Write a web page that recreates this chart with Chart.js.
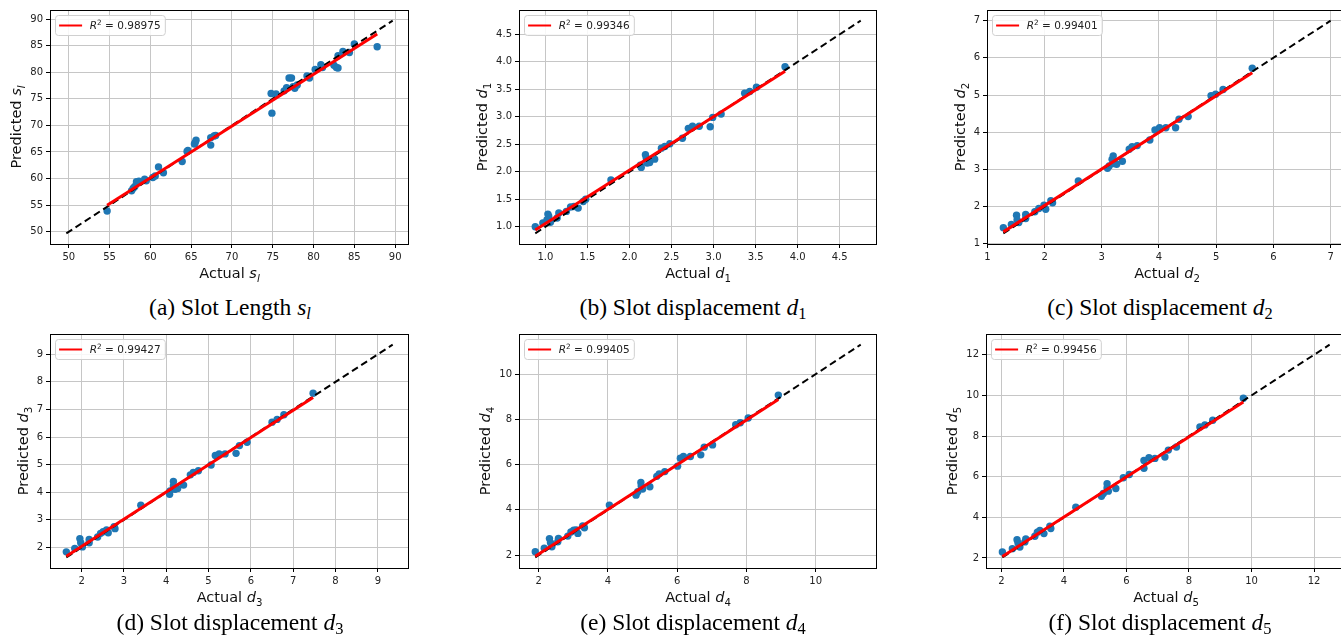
<!DOCTYPE html>
<html><head><meta charset="utf-8">
<script src="https://cdn.jsdelivr.net/npm/chart.js@4.4.1/dist/chart.umd.min.js"></script>
<style>
html,body{margin:0;padding:0;background:#fff;width:1341px;height:638px;overflow:hidden;position:relative}
canvas{position:absolute}
.cap{position:absolute;font-family:"Liberation Serif","Times New Roman",serif;font-size:23.5px;line-height:23.5px;white-space:nowrap;transform:translateX(-50%);color:#000}
.cap i{font-style:italic}
.cap sub{font-size:70%;vertical-align:-0.25em;line-height:0}
</style></head><body>
<script>
// ---------- DATA ----------
const aActual    = [54.7,57.7,57.9,58.1,58.3,58.6,59.3,59.5,60.3,60.6,61.0,61.6,63.9,64.5,64.6,65.4,65.5,65.6,67.4,67.4,67.8,68.0,74.8,74.9,75.4,76.4,76.7,77.0,77.3,77.5,77.7,78.0,79.2,79.5,80.2,80.9,81.1,82.5,82.8,83.0,83.0,83.6,84.4,85.0,87.8];
const aPredicted = [53.9,57.7,58.2,58.5,59.4,59.5,59.9,59.6,60.2,60.5,62.2,61.1,63.2,65.1,65.3,66.5,66.8,67.2,66.3,67.7,68.0,68.1,76.0,72.3,75.9,76.5,77.1,78.9,78.9,77.3,77.0,77.6,79.3,78.9,80.5,81.4,80.9,81.3,80.9,80.8,83.1,83.9,83.7,85.3,84.8];
const aFitX = [54.7, 87.8], aFitY = [55.0, 87.2], aIdeal = [49.7, 89.7];
const aTicks = [50,55,60,65,70,75,80,85,90];
const aR2 = "0.98975";

const bActual    = [0.88,0.97,1.02,1.03,1.04,1.06,1.14,1.16,1.25,1.30,1.34,1.39,1.45,1.48,1.78,2.13,2.14,2.19,2.20,2.21,2.24,2.30,2.38,2.42,2.48,2.63,2.70,2.75,2.83,2.96,2.99,3.09,3.37,3.43,3.51,3.85];
const bPredicted = [1.00,1.07,1.13,1.23,1.19,1.08,1.16,1.25,1.28,1.36,1.37,1.34,1.46,1.50,1.85,2.12,2.08,2.31,2.25,2.16,2.17,2.23,2.43,2.46,2.51,2.61,2.79,2.83,2.83,2.82,2.99,3.05,3.43,3.46,3.54,3.91];
const bFitX = [0.88, 3.85], bFitY = [0.94, 3.83], bIdeal = [0.88, 4.75];
const bTicks = [1.0,1.5,2.0,2.5,3.0,3.5,4.0,4.5];
const bR2 = "0.99346";

const cActual    = [1.28,1.42,1.51,1.52,1.55,1.67,1.67,1.83,1.90,1.99,2.02,2.11,2.14,2.59,3.10,3.13,3.18,3.20,3.21,3.26,3.36,3.48,3.53,3.62,3.84,3.93,4.01,4.12,4.29,4.35,4.51,4.91,4.99,5.12,5.63];
const cPredicted = [1.43,1.52,1.77,1.64,1.57,1.79,1.68,1.86,1.95,2.04,1.93,2.16,2.10,2.69,3.03,3.09,3.27,3.36,3.16,3.14,3.22,3.54,3.61,3.64,3.79,4.06,4.12,4.12,4.12,4.35,4.42,4.98,5.02,5.15,5.72];
const cFitX = [1.28, 5.63], cFitY = [1.32, 5.60], cIdeal = [1.28, 7.0];
const cTicks = [1,2,3,4,5,6,7];
const cR2 = "0.99401";

const dActual    = [1.64,1.84,1.96,1.98,2.02,2.18,2.18,2.38,2.45,2.51,2.59,2.63,2.77,2.79,3.40,4.08,4.09,4.17,4.17,4.21,4.27,4.41,4.57,4.64,4.76,5.06,5.16,5.25,5.39,5.65,5.73,5.91,6.50,6.62,6.78,7.47];
const dPredicted = [1.84,1.96,2.32,2.17,2.02,2.29,2.17,2.38,2.51,2.57,2.63,2.53,2.75,2.68,3.53,3.93,4.05,4.39,4.23,4.11,4.14,4.26,4.63,4.72,4.78,4.99,5.33,5.39,5.39,5.41,5.69,5.81,6.54,6.64,6.81,7.59];
const dFitX = [1.64, 7.47], dFitY = [1.68, 7.43], dIdeal = [1.64, 9.35];
const dTicks = [2,3,4,5,6,7,8,9];
const dR2 = "0.99427";

const eActual    = [1.90,2.16,2.31,2.34,2.38,2.55,2.57,2.84,2.93,3.01,3.08,3.13,3.27,3.32,4.04,4.81,4.86,4.95,4.96,5.00,5.21,5.41,5.48,5.64,6.01,6.09,6.18,6.38,6.68,6.78,7.02,7.69,7.82,8.05,8.92];
const ePredicted = [2.15,2.30,2.73,2.55,2.37,2.59,2.74,2.84,3.02,3.10,3.11,2.96,3.29,3.21,4.21,4.65,4.80,5.21,5.05,4.92,5.02,5.48,5.59,5.69,5.93,6.28,6.36,6.36,6.43,6.77,6.87,7.76,7.85,8.06,9.07];
const eFitX = [1.90, 8.92], eFitY = [1.95, 8.88], eIdeal = [1.90, 11.3];
const eTicks = [2,4,6,8,10];
const eR2 = "0.99405";

const fActual    = [2.03,2.35,2.50,2.53,2.59,2.75,2.78,3.07,3.15,3.23,3.36,3.55,3.58,4.38,5.20,5.26,5.38,5.38,5.42,5.66,5.90,6.09,6.56,6.56,6.72,6.91,7.23,7.34,7.60,8.35,8.51,8.76,9.74];
const fPredicted = [2.30,2.46,2.90,2.74,2.54,2.79,2.94,3.07,3.27,3.35,3.20,3.56,3.45,4.50,5.04,5.17,5.65,5.45,5.29,5.42,5.95,6.11,6.41,6.80,6.93,6.90,6.97,7.31,7.46,8.45,8.55,8.78,9.86];
const fFitX = [2.03, 9.74], fFitY = [2.07, 9.68], fIdeal = [2.03, 12.5];
const fTicks = [2,4,6,8,10,12];
const fR2 = "0.99456";

// ---------- LAYOUT ----------
const panels = [
 {actual:aActual, pred:aPredicted, fitX:aFitX, fitY:aFitY, ideal:aIdeal, ticks:aTicks, r2:aR2, sym:'s', sub:'l', subIt:true, dec:0, box:[50,10,409,244], yOff:29, cap:'(a) Slot Length <i>s<sub>l</sub></i>', capX:230, capTop:296.3},
 {actual:bActual, pred:bPredicted, fitX:bFitX, fitY:bFitY, ideal:bIdeal, ticks:bTicks, r2:bR2, sym:'d', sub:'1', subIt:false, dec:1, box:[519,10,877,244], yOff:32, cap:'(b) Slot displacement <i>d</i><sub>1</sub>', capX:693, capTop:296.3},
 {actual:cActual, pred:cPredicted, fitX:cFitX, fitY:cFitY, ideal:cIdeal, ticks:cTicks, r2:cR2, sym:'d', sub:'2', subIt:false, dec:0, box:[987,10,1347,244], yOff:22, cap:'(c) Slot displacement <i>d</i><sub>2</sub>', capX:1160, capTop:296.3},
 {actual:dActual, pred:dPredicted, fitX:dFitX, fitY:dFitY, ideal:dIdeal, ticks:dTicks, r2:dR2, sym:'d', sub:'3', subIt:false, dec:0, box:[50,334,409,568], yOff:22, cap:'(d) Slot displacement <i>d</i><sub>3</sub>', capX:230, capTop:611.3},
 {actual:eActual, pred:ePredicted, fitX:eFitX, fitY:eFitY, ideal:eIdeal, ticks:eTicks, r2:eR2, sym:'d', sub:'4', subIt:false, dec:0, box:[519,334,877,568], yOff:29, cap:'(e) Slot displacement <i>d</i><sub>4</sub>', capX:693, capTop:611.3},
 {actual:fActual, pred:fPredicted, fitX:fFitX, fitY:fFitY, ideal:fIdeal, ticks:fTicks, r2:fR2, sym:'d', sub:'5', subIt:false, dec:0, box:[986,334,1346,568], yOff:29, cap:'(f) Slot displacement <i>d</i><sub>5</sub>', capX:1160, capTop:611.3}
];

const FAM = '"DejaVu Sans", sans-serif';
function fnt(s){ return (s.it?'italic ':'') + s.size + 'px ' + FAM; }
function richWidth(ctx, segs){ let w=0; for(const s of segs){ ctx.font=fnt(s); w+=ctx.measureText(s.t).width; } return w; }
function drawRich(ctx, segs, x, y){ let cx=x; for(const s of segs){ ctx.font=fnt(s); ctx.fillText(s.t, cx, y+(s.dy||0)); cx+=ctx.measureText(s.t).width; } }

const decorPlugin = {
  id:'decor',
  afterDraw(chart, args, o){
    const ctx = chart.ctx, ca = chart.chartArea;
    ctx.save();
    // frame
    ctx.strokeStyle = '#000'; ctx.lineWidth = 1;
    ctx.strokeRect(Math.round(ca.left)+0.5, Math.round(ca.top)+0.5, Math.round(ca.right)-Math.round(ca.left)-1, Math.round(ca.bottom)-Math.round(ca.top));
    // legend
    ctx.fillStyle = '#000'; ctx.textBaseline = 'alphabetic';
    const lseg = [{t:'R', it:true, size:10.5},{t:'2', size:7.3, dy:-4.6},{t:' = ' + o.r2, size:10.5}];
    const tw = richWidth(ctx, lseg);
    const bx = ca.left + 5.5, by = ca.top + 5.5, bw = 3.6 + 23 + 7.7 + tw + 4.7, bh = 20;
    ctx.beginPath();
    ctx.roundRect(bx, by, bw, bh, 3);
    ctx.fillStyle = 'rgba(255,255,255,0.85)'; ctx.fill();
    ctx.strokeStyle = '#d0d0d0'; ctx.lineWidth = 1; ctx.stroke();
    ctx.beginPath(); ctx.moveTo(bx+3.6, by+10); ctx.lineTo(bx+26.6, by+10);
    ctx.strokeStyle = '#ff0000'; ctx.lineWidth = 2; ctx.stroke();
    ctx.fillStyle = '#222';
    drawRich(ctx, lseg, bx + 34.3, by + 13.8);
    // axis titles
    ctx.fillStyle = '#111';
    const symSeg = {t:o.sym, it:true, size:14.5};
    const subSeg = {t:o.sub, it:o.subIt, size:10.2, dy:3.5};
    const xs = [{t:'Actual ', size:14.5}, symSeg, subSeg];
    const xw = richWidth(ctx, xs);
    drawRich(ctx, xs, (ca.left+ca.right)/2 - xw/2, ca.bottom + 34);
    const ys = [{t:'Predicted ', size:14.5}, symSeg, subSeg];
    const yw = richWidth(ctx, ys);
    ctx.translate(ca.left - o.yOff, (ca.top+ca.bottom)/2);
    ctx.rotate(-Math.PI/2);
    drawRich(ctx, ys, -yw/2, 0);
    ctx.restore();
  }
};

function padRange(arr){ const lo=arr[0], hi=arr[arr.length-1], m=(hi-lo)*0.05; return [lo-m, hi+m]; }

panels.forEach((p) => {
  const [L,T,R,B] = p.box;
  const cv = document.createElement('canvas');
  const W = (R-L)+60, H = (B-T)+60;
  cv.width = W; cv.height = H;
  cv.style.left = (L-50)+'px'; cv.style.top = (T-10)+'px';
  cv.style.width = W+'px'; cv.style.height = H+'px';
  document.body.appendChild(cv);

  const cap = document.createElement('div');
  cap.className = 'cap'; cap.innerHTML = p.cap;
  cap.style.left = p.capX+'px'; cap.style.top = p.capTop+'px';
  document.body.appendChild(cap);

  const rng = padRange(p.ideal);
  const axis = (isX) => ({
    type:'linear', min:rng[0], max:rng[1],
    afterBuildTicks: s => { s.ticks = p.ticks.map(v => ({value:v})); },
    afterFit: s => { if (isX) s.height = 50; else s.width = 50; },
    grid:{color:'#c6c6c6', lineWidth:1, tickColor:'#000', tickLength:4, tickWidth:1},
    border:{display:false},
    ticks:{color:'#222', font:{family:FAM, size:10}, padding:3, maxRotation:0, autoSkip:false,
           callback: v => Number(v).toFixed(p.dec)}
  });

  new Chart(cv, {
    type:'scatter',
    data:{datasets:[
      {label:'fit', data:p.fitX.map((x,i)=>({x, y:p.fitY[i]})), showLine:true, borderColor:'#ff0000', borderWidth:3, pointRadius:0, order:0},
      {label:'ideal', data:p.ideal.map(v=>({x:v, y:v})), showLine:true, borderColor:'#000', borderWidth:2, borderDash:[7,4], pointRadius:0, order:1},
      {label:'points', data:p.actual.map((x,i)=>({x, y:p.pred[i]})), backgroundColor:'#1f77b4', borderWidth:0, pointRadius:3.7, order:2}
    ]},
    options:{
      responsive:false, animation:false, devicePixelRatio:1,
      layout:{padding:{top:10, right:10, left:0, bottom:0}},
      plugins:{legend:{display:false}, tooltip:{enabled:false}, decor:{r2:p.r2, sym:p.sym, sub:p.sub, subIt:p.subIt, yOff:p.yOff}},
      scales:{x:axis(true), y:axis(false)}
    },
    plugins:[decorPlugin]
  });
});
</script>
</body></html>
